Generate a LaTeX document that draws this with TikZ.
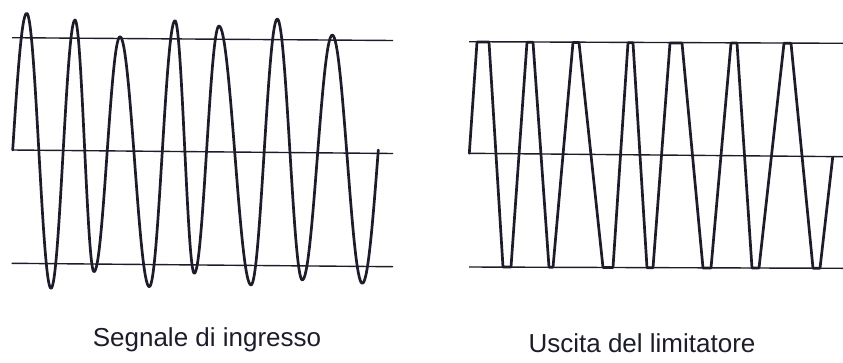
\documentclass[tikz,border=0pt]{standalone}
\usepackage{fontspec}
\setmainfont{Liberation Sans}
\definecolor{ink}{RGB}{28,28,42}
\tikzset{
  wave/.style={draw=ink, line width=2.7pt, line join=round, line cap=round},
  refline/.style={draw=ink, line width=1.4pt},
  caption/.style={anchor=base, inner sep=0pt, text=ink, font=\fontsize{26}{30}\selectfont}
}
\begin{document}
\begin{tikzpicture}[x=1pt,y=-1pt]
\useasboundingbox (0,0) rectangle (843,362);
% left panel reference lines
\draw[refline] (12,37.7) -- (393,40.5);
\draw[refline] (12.5,150) -- (393,153.5);
\draw[refline] (11.7,263.3) -- (393,266.7);
% input signal
\draw[wave] (12.7,150) sin (26.7,13.3)
  cos (38.85,150.8) sin (51,288.3)
  cos (63,154.15) sin (75,20)
  cos (84.5,145.85) sin (94,271.7)
  cos (107,154.2) sin (120,36.7)
  cos (134.65,161.7) sin (149.3,286.7)
  cos (162.15,153.7) sin (175,20.7)
  cos (184.65,147) sin (194.3,273.3)
  cos (206.65,149.65) sin (219,26)
  cos (235,155.5) sin (251,285)
  cos (264.15,152) sin (277.3,19)
  cos (289.8,149.5) sin (302.3,280)
  cos (317.3,157.5) sin (332.3,35)
  cos (347.3,159.15) sin (362.3,283.3)
  cos (378.3,150);
% right panel reference lines
\draw[refline] (469,41.7) -- (843,43.3);
\draw[refline] (469,153.3) -- (843,156.7);
\draw[refline] (469,267) -- (843,268.3);
% limiter output
\draw[wave] (469.3,153.3) -- (477,42) -- (489,42) -- (503,267) -- (511,267)
  -- (527,42.2) -- (533,42.2) -- (549,267.3) -- (553,267.3)
  -- (573,42.5) -- (579,42.5) -- (603,267.5) -- (613,267.5)
  -- (628,42.8) -- (633,42.8) -- (647,267.8) -- (653,267.8)
  -- (670,43) -- (682,43) -- (703,268) -- (711,268)
  -- (731,43) -- (737,43) -- (752,268) -- (759,268)
  -- (784,43.2) -- (791,43.2) -- (813,268.2) -- (820,268.2)
  -- (832.7,157.3);
% captions
\node[caption] (lblin) at (207,346) {Segnale di ingresso};
\node[caption] (lblout) at (642,352) {Uscita del limitatore};
\end{tikzpicture}
\end{document}
